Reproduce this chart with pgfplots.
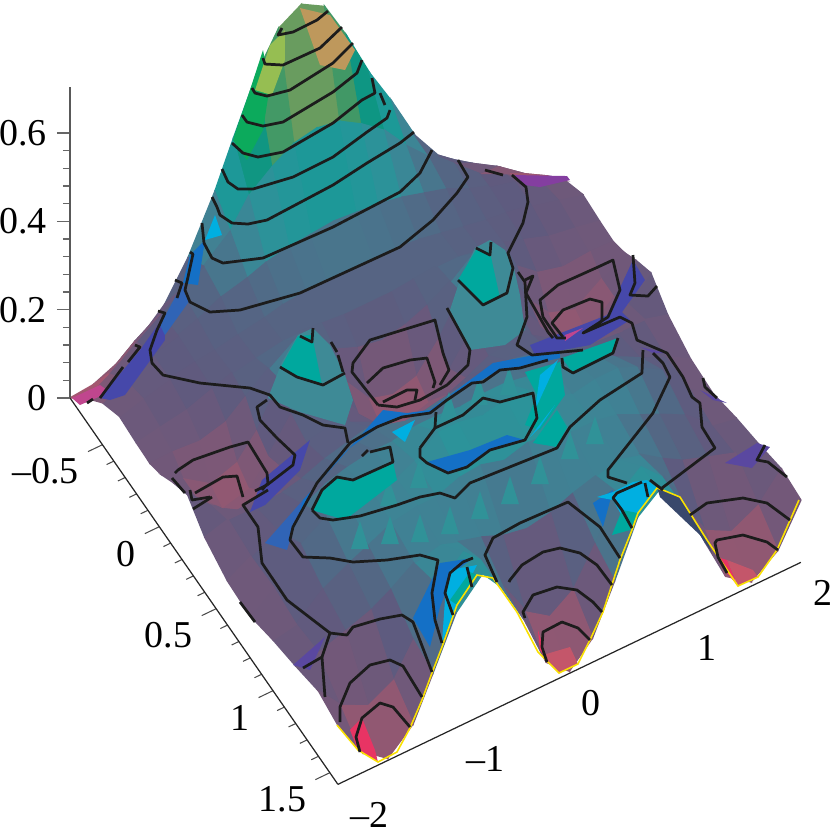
\documentclass[border=0pt]{standalone}
\usepackage{pgfplots}
\pgfplotsset{compat=1.18}
\usepackage{fontspec}
\setmainfont{Liberation Serif}
\definecolor{cb}{RGB}{28,28,28}
\definecolor{yel}{RGB}{250,225,0}
\definecolor{viol}{RGB}{70,72,170}
\definecolor{violb}{RGB}{90,72,160}
\definecolor{bluea}{RGB}{20,112,198}
\definecolor{blueb}{RGB}{48,100,182}
\definecolor{cyana}{RGB}{0,175,225}
\definecolor{teala}{RGB}{0,168,158}
\definecolor{tealb}{RGB}{62,138,150}
\definecolor{tealc}{RGB}{48,146,152}
\definecolor{fold}{RGB}{56,72,108}
\definecolor{purp}{RGB}{132,62,160}
\definecolor{crim}{RGB}{232,52,100}
\definecolor{rosea}{RGB}{196,86,106}
\definecolor{magn}{RGB}{192,70,142}
\definecolor{grna}{RGB}{12,170,92}
\definecolor{grnb}{RGB}{150,190,82}
\definecolor{tana}{RGB}{190,152,92}
\pgfplotsset{colormap={psi}{
rgb255=(200,84,108) rgb255=(146,88,114) rgb255=(118,88,120) rgb255=(96,90,126)
rgb255=(84,102,132) rgb255=(64,130,148) rgb255=(42,148,154) rgb255=(20,155,150)
rgb255=(10,150,135) rgb255=(40,150,110) rgb255=(90,155,95) rgb255=(140,160,95)
rgb255=(162,155,90) rgb255=(190,150,86)},
cont/.style={cb,solid,mark=none,line width=0.78pt,line join=round}}
\begin{document}
\begin{tikzpicture}
\path[use as bounding box] (0,0) rectangle (8.3cm,8.3cm);
% surface
\begin{axis}[anchor=origin,at={(3.908cm,4.143cm)},
 x={(1.1575cm,0.555cm)},y={(1.137cm,-1.64cm)},z={(0cm,4.417cm)},
 xmin=-2,xmax=2,ymin=-0.785,ymax=1.571,zmin=0,zmax=0.705,
 hide axis,clip=false,colormap name=psi,point meta min=0,point meta max=0.65]
\addplot3[surf,shader=flat,z buffer=sort,mesh/cols=21] coordinates {
(-2,-0.785,0) (-1.8,-0.785,0.005) (-1.57,-0.785,0.03) (-1.35,-0.785,0.07) (-1.18,-0.785,0.11) (-0.98,-0.785,0.19) (-0.75,-0.785,0.31) (-0.59,-0.785,0.41) (-0.39,-0.785,0.53) (-0.2,-0.785,0.61) (0,-0.785,0.64) (0.2,-0.785,0.61) (0.39,-0.785,0.52) (0.59,-0.785,0.41) (0.785,-0.785,0.32) (0.98,-0.785,0.22) (1.18,-0.785,0.15) (1.35,-0.785,0.11) (1.57,-0.785,0.06) (1.8,-0.785,0.03) (2,-0.785,0)

(-2,-0.65,0.05) (-1.8,-0.65,0.08) (-1.57,-0.65,0.125) (-1.35,-0.65,0.16) (-1.18,-0.65,0.19) (-0.98,-0.65,0.22) (-0.75,-0.65,0.27) (-0.59,-0.65,0.33) (-0.39,-0.65,0.37) (-0.2,-0.65,0.4) (0,-0.65,0.41) (0.2,-0.65,0.4) (0.39,-0.65,0.37) (0.59,-0.65,0.33) (0.785,-0.65,0.27) (0.98,-0.65,0.22) (1.18,-0.65,0.19) (1.35,-0.65,0.16) (1.57,-0.65,0.125) (1.8,-0.65,0.08) (2,-0.65,0.05)

(-2,-0.5,0.095) (-1.8,-0.5,0.12) (-1.57,-0.5,0.15) (-1.35,-0.5,0.165) (-1.18,-0.5,0.18) (-0.98,-0.5,0.205) (-0.75,-0.5,0.22) (-0.59,-0.5,0.235) (-0.39,-0.5,0.245) (-0.2,-0.5,0.25) (0,-0.5,0.255) (0.2,-0.5,0.25) (0.39,-0.5,0.245) (0.59,-0.5,0.235) (0.785,-0.5,0.22) (0.98,-0.5,0.205) (1.18,-0.5,0.18) (1.35,-0.5,0.165) (1.57,-0.5,0.15) (1.8,-0.5,0.12) (2,-0.5,0.095)

(-2,-0.35,0.12) (-1.8,-0.35,0.135) (-1.57,-0.35,0.15) (-1.35,-0.35,0.16) (-1.18,-0.35,0.165) (-0.98,-0.35,0.175) (-0.75,-0.35,0.185) (-0.59,-0.35,0.195) (-0.39,-0.35,0.2) (-0.2,-0.35,0.2) (0,-0.35,0.2) (0.2,-0.35,0.2) (0.39,-0.35,0.2) (0.59,-0.35,0.195) (0.785,-0.35,0.185) (0.98,-0.35,0.175) (1.18,-0.35,0.165) (1.35,-0.35,0.16) (1.57,-0.35,0.15) (1.8,-0.35,0.135) (2,-0.35,0.12)

(-2,-0.2,0.115) (-1.8,-0.2,0.125) (-1.57,-0.2,0.135) (-1.35,-0.2,0.155) (-1.18,-0.2,0.17) (-0.98,-0.2,0.18) (-0.75,-0.2,0.19) (-0.59,-0.2,0.19) (-0.39,-0.2,0.185) (-0.2,-0.2,0.18) (0,-0.2,0.18) (0.2,-0.2,0.18) (0.39,-0.2,0.185) (0.59,-0.2,0.19) (0.785,-0.2,0.19) (0.98,-0.2,0.18) (1.18,-0.2,0.17) (1.35,-0.2,0.155) (1.57,-0.2,0.135) (1.8,-0.2,0.125) (2,-0.2,0.115)

(-2,-0.08,0.113) (-1.8,-0.08,0.115) (-1.57,-0.08,0.11) (-1.35,-0.08,0.125) (-1.18,-0.08,0.16) (-0.98,-0.08,0.2) (-0.75,-0.08,0.24) (-0.59,-0.08,0.2) (-0.39,-0.08,0.17) (-0.2,-0.08,0.15) (0,-0.08,0.14) (0.2,-0.08,0.15) (0.39,-0.08,0.17) (0.59,-0.08,0.2) (0.785,-0.08,0.24) (0.98,-0.08,0.2) (1.18,-0.08,0.16) (1.35,-0.08,0.125) (1.57,-0.08,0.11) (1.8,-0.08,0.115) (2,-0.08,0.113)

(-2,0.02,0.125) (-1.8,0.02,0.09) (-1.57,0.02,0.05) (-1.35,0.02,0.07) (-1.18,0.02,0.12) (-0.98,0.02,0.21) (-0.75,0.02,0.3) (-0.59,0.02,0.21) (-0.39,0.02,0.13) (-0.2,0.02,0.07) (0,0.02,0.055) (0.2,0.02,0.07) (0.39,0.02,0.13) (0.59,0.02,0.21) (0.785,0.02,0.3) (0.98,0.02,0.21) (1.18,0.02,0.12) (1.35,0.02,0.07) (1.57,0.02,0.05) (1.8,0.02,0.09) (2,0.02,0.125)

(-2,0.12,0.145) (-1.8,0.12,0.09) (-1.57,0.12,0.035) (-1.35,0.12,0.05) (-1.18,0.12,0.1) (-0.98,0.12,0.17) (-0.75,0.12,0.21) (-0.59,0.12,0.17) (-0.39,0.12,0.1) (-0.2,0.12,0.05) (0,0.12,0.035) (0.2,0.12,0.05) (0.39,0.12,0.1) (0.59,0.12,0.17) (0.785,0.12,0.21) (0.98,0.12,0.17) (1.18,0.12,0.1) (1.35,0.12,0.05) (1.57,0.12,0.035) (1.8,0.12,0.09) (2,0.12,0.145)

(-2,0.25,0.165) (-1.8,0.25,0.12) (-1.57,0.25,0.08) (-1.35,0.25,0.09) (-1.18,0.25,0.12) (-0.98,0.25,0.155) (-0.75,0.25,0.165) (-0.59,0.25,0.155) (-0.39,0.25,0.13) (-0.2,0.25,0.11) (0,0.25,0.1) (0.2,0.25,0.11) (0.39,0.25,0.13) (0.59,0.25,0.155) (0.785,0.25,0.165) (0.98,0.25,0.155) (1.18,0.25,0.12) (1.35,0.25,0.09) (1.57,0.25,0.08) (1.8,0.25,0.12) (2,0.25,0.165)

(-2,0.4,0.125) (-1.8,0.4,0.14) (-1.57,0.4,0.14) (-1.35,0.4,0.145) (-1.18,0.4,0.155) (-0.98,0.4,0.175) (-0.75,0.4,0.19) (-0.59,0.4,0.2) (-0.39,0.4,0.2) (-0.2,0.4,0.19) (0,0.4,0.185) (0.2,0.4,0.19) (0.39,0.4,0.2) (0.59,0.4,0.2) (0.785,0.4,0.19) (0.98,0.4,0.175) (1.18,0.4,0.155) (1.35,0.4,0.145) (1.57,0.4,0.14) (1.8,0.4,0.14) (2,0.4,0.125)

(-2,0.6,0.1) (-1.8,0.6,0.13) (-1.57,0.6,0.16) (-1.35,0.6,0.19) (-1.18,0.6,0.215) (-0.98,0.6,0.23) (-0.75,0.6,0.24) (-0.59,0.6,0.24) (-0.39,0.6,0.25) (-0.2,0.6,0.25) (0,0.6,0.245) (0.2,0.6,0.25) (0.39,0.6,0.25) (0.59,0.6,0.24) (0.785,0.6,0.24) (0.98,0.6,0.23) (1.18,0.6,0.215) (1.35,0.6,0.19) (1.57,0.6,0.16) (1.8,0.6,0.13) (2,0.6,0.1)

(-2,0.8,0.095) (-1.8,0.8,0.135) (-1.57,0.8,0.205) (-1.35,0.8,0.24) (-1.18,0.8,0.26) (-0.98,0.8,0.26) (-0.75,0.8,0.25) (-0.59,0.8,0.27) (-0.39,0.8,0.31) (-0.2,0.8,0.31) (0,0.8,0.3) (0.2,0.8,0.31) (0.39,0.8,0.31) (0.59,0.8,0.27) (0.785,0.8,0.25) (0.98,0.8,0.26) (1.18,0.8,0.26) (1.35,0.8,0.24) (1.57,0.8,0.205) (1.8,0.8,0.135) (2,0.8,0.095)

(-2,1,0.115) (-1.8,1,0.125) (-1.57,1,0.175) (-1.35,1,0.205) (-1.18,1,0.225) (-0.98,1,0.25) (-0.75,1,0.26) (-0.59,1,0.26) (-0.39,1,0.28) (-0.2,1,0.285) (0,1,0.27) (0.2,1,0.285) (0.39,1,0.28) (0.59,1,0.26) (0.785,1,0.26) (0.98,1,0.25) (1.18,1,0.225) (1.35,1,0.205) (1.57,1,0.175) (1.8,1,0.125) (2,1,0.115)

(-2,1.2,0.13) (-1.8,1.2,0.135) (-1.57,1.2,0.155) (-1.35,1.2,0.175) (-1.18,1.2,0.2) (-0.98,1.2,0.235) (-0.75,1.2,0.25) (-0.59,1.2,0.235) (-0.39,1.2,0.22) (-0.2,1.2,0.2) (0,1.2,0.19) (0.2,1.2,0.2) (0.39,1.2,0.22) (0.59,1.2,0.235) (0.785,1.2,0.25) (0.98,1.2,0.235) (1.18,1.2,0.2) (1.35,1.2,0.175) (1.57,1.2,0.155) (1.8,1.2,0.135) (2,1.2,0.13)

(-2,1.4,0.148) (-1.8,1.4,0.09) (-1.57,1.4,0.06) (-1.35,1.4,0.09) (-1.18,1.4,0.16) (-0.98,1.4,0.26) (-0.75,1.4,0.31) (-0.59,1.4,0.27) (-0.39,1.4,0.18) (-0.2,1.4,0.1) (0,1.4,0.065) (0.2,1.4,0.1) (0.39,1.4,0.18) (0.59,1.4,0.27) (0.785,1.4,0.31) (0.98,1.4,0.26) (1.18,1.4,0.16) (1.35,1.4,0.09) (1.57,1.4,0.06) (1.8,1.4,0.09) (2,1.4,0.148)

(-2,1.571,0.134) (-1.8,1.571,0.05) (-1.57,1.571,0.005) (-1.35,1.571,0.055) (-1.18,1.571,0.148) (-0.98,1.571,0.26) (-0.75,1.571,0.32) (-0.59,1.571,0.27) (-0.39,1.571,0.17) (-0.2,1.571,0.05) (0,1.571,0.005) (0.2,1.571,0.055) (0.39,1.571,0.16) (0.59,1.571,0.28) (0.785,1.571,0.32) (0.98,1.571,0.27) (1.18,1.571,0.145) (1.35,1.571,0.05) (1.57,1.571,0.01) (1.8,1.571,0.052) (2,1.571,0.141)
};
\end{axis}
% colour accents and contour lines, on the picture's own pixel grid
\begin{axis}[at={(0cm,0cm)},anchor=south west,scale only axis,width=8.3cm,height=8.3cm,
 xmin=0,xmax=830,ymin=0,ymax=830,y dir=reverse,hide axis]
% bumps
\addplot[fill=tealb,draw=none] coordinates {(268,398)(282,362)(298,335)(313,328)(330,345)(345,375)(353,400)(345,425)(300,412)} -- cycle;
\addplot[fill=teala,draw=none] coordinates {(281,367)(298,336)(312,335)(322,385)(297,377)} -- cycle;
\addplot[fill=tealb,draw=none] coordinates {(450,310)(460,280)(475,248)(490,240)(505,250)(514,268)(520,295)(525,330)(505,345)(470,350)} -- cycle;
\addplot[fill=teala,draw=none] coordinates {(458,280)(476,250)(490,252)(500,298)(483,305)} -- cycle;
% spikes of the plateau
\addplot[fill=tealc,draw=none] coordinates {(351,549)(369,549)(360,521)} -- cycle;
\addplot[fill=tealc,draw=none] coordinates {(381,544)(399,544)(390,516)} -- cycle;
\addplot[fill=tealc,draw=none] coordinates {(411,542)(429,542)(420,514)} -- cycle;
\addplot[fill=tealc,draw=none] coordinates {(441,534)(459,534)(450,506)} -- cycle;
\addplot[fill=tealc,draw=none] coordinates {(471,519)(489,519)(480,491)} -- cycle;
\addplot[fill=tealc,draw=none] coordinates {(501,504)(519,504)(510,476)} -- cycle;
\addplot[fill=tealc,draw=none] coordinates {(531,484)(549,484)(540,456)} -- cycle;
\addplot[fill=tealc,draw=none] coordinates {(561,459)(579,459)(570,431)} -- cycle;
\addplot[fill=tealc,draw=none] coordinates {(586,444)(604,444)(595,416)} -- cycle;
\addplot[fill=tealc,draw=none] coordinates {(380,506)(398,506)(389,478)} -- cycle;
\addplot[fill=tealc,draw=none] coordinates {(410,488)(428,488)(419,460)} -- cycle;
\addplot[fill=tealc,draw=none] coordinates {(470,405)(488,405)(479,377)} -- cycle;
\addplot[fill=tealc,draw=none] coordinates {(440,420)(458,420)(449,392)} -- cycle;
\addplot[fill=tealc,draw=none] coordinates {(500,395)(518,395)(509,367)} -- cycle;
% steep flanks
\addplot[fill=viol,draw=none] coordinates {(250,512)(262,480)(310,440)(300,470)(265,505)} -- cycle;
\addplot[fill=bluea,draw=none] coordinates {(293,530)(303,500)(330,470)(363,433)(383,410)(407,413)(430,410)(493,363)(560,350)(560,358)(497,372)(447,397)(430,413)(402,417)(377,428)(347,450)(317,483)} -- cycle;
\addplot[fill=blueb,draw=none] coordinates {(265,543)(303,500)(293,530)(287,550)} -- cycle;
\addplot[fill=teala,draw=none] coordinates {(312,510)(322,490)(337,477)(353,480)(393,462)(397,480)(345,520)} -- cycle;
\addplot[fill=teala,draw=none] coordinates {(562,358)(618,338)(613,353)(573,373)} -- cycle;
\addplot[fill=teala,draw=none] coordinates {(525,372)(560,362)(565,395)(540,430)(525,425)(537,395)} -- cycle;
\addplot[fill=teala,draw=none] coordinates {(533,443)(557,410)(567,427)(557,447)} -- cycle;
\addplot[fill=cyana,draw=none] coordinates {(540,375)(558,360)(535,410)} -- cycle;
\addplot[fill=cyana,draw=none] coordinates {(530,437)(555,405)(540,427)} -- cycle;
\addplot[fill=cyana,draw=none] coordinates {(392,432)(415,420)(405,442)} -- cycle;
\addplot[fill=bluea,draw=none] coordinates {(427,462)(470,450)(507,435)(525,440)(490,450)(467,467)(448,473)} -- cycle;
\addplot[fill=viol,draw=none] coordinates {(530,345)(620,310)(630,320)(590,345)(535,355)} -- cycle;
\addplot[fill=viol,draw=none] coordinates {(633,260)(645,280)(620,315)(605,320)} -- cycle;
\addplot[fill=magn,draw=none] coordinates {(565,335)(583,328)(565,341)} -- cycle;
\addplot[fill=purp,draw=none] coordinates {(515,175)(567,176)(570,180)(540,187)(525,185)} -- cycle;
\addplot[fill=magn,draw=none] coordinates {(72,398)(100,385)(110,392)(80,405)} -- cycle;
\addplot[fill=viol,draw=none] coordinates {(100,398)(140,350)(165,315)(165,340)(125,395)(110,400)} -- cycle;
\addplot[fill=blueb,draw=none] coordinates {(160,325)(183,283)(190,300)(165,335)} -- cycle;
\addplot[fill=bluea,draw=none] coordinates {(183,283)(190,255)(205,240)(198,285)} -- cycle;
\addplot[fill=cyana,draw=none] coordinates {(205,240)(215,215)(222,235)} -- cycle;
\addplot[fill=grna,draw=none] coordinates {(233,140)(250,90)(263,50)(270,85)(263,130)(247,160)} -- cycle;
\addplot[fill=grnb,draw=none] coordinates {(255,90)(270,45)(285,30)(285,60)(272,95)} -- cycle;
\addplot[fill=tana,draw=none] coordinates {(300,8)(330,15)(355,50)(345,70)(320,65)} -- cycle;
\addplot[fill=violb,draw=none] coordinates {(293,665)(325,637)(310,670)} -- cycle;
\addplot[fill=violb,draw=none] coordinates {(752,468)(770,447)(757,443)(725,463)} -- cycle;
\addplot[fill=violb,draw=none] coordinates {(700,390)(727,403)(713,400)} -- cycle;
\addplot[fill=violb,draw=none] coordinates {(640,347)(667,353)(653,353)} -- cycle;
\addplot[fill=fold,draw=none] coordinates {(657,487)(680,497)(707,540)(712,553)(700,535)(660,497)} -- cycle;
\addplot[fill=crim,draw=none] coordinates {(350,730)(362,718)(375,750)(378,762)(358,750)} -- cycle;
\addplot[fill=crim,draw=none] coordinates {(538,630)(547,660)(540,650)} -- cycle;
\addplot[fill=rosea,draw=none] coordinates {(543,655)(570,647)(578,664)(559,673)} -- cycle;
\addplot[fill=crim,draw=none] coordinates {(717,557)(727,573)(738,586)(727,560)} -- cycle;
\addplot[fill=rosea,draw=none] coordinates {(727,560)(753,570)(758,577)(738,586)} -- cycle;
\addplot[fill=bluea,draw=none] coordinates {(413,618)(440,563)(473,558)(453,573)(440,607)(430,647)} -- cycle;
\addplot[fill=cyana,draw=none] coordinates {(445,600)(450,570)(477,565)(457,605)(442,643)} -- cycle;
\addplot[fill=teala,draw=none] coordinates {(457,605)(477,575)(470,572)(450,600)} -- cycle;
\addplot[fill=bluea,draw=none] coordinates {(593,503)(613,490)(603,527)} -- cycle;
\addplot[fill=cyana,draw=none] coordinates {(597,497)(613,492)(633,482)(647,480)(657,488)(638,513)(630,530)(613,500)} -- cycle;
\addplot[fill=teala,draw=none] coordinates {(630,530)(638,513)(622,510)(612,535)} -- cycle;
% yellow front edge
\addplot[yel,line width=0.45pt] coordinates {(337,725)(358,750)(378,762)(397,752)(410,728)(422,700)(432,673)(442,647)(457,605)(477,575)(493,578)(517,612)(538,652)(559,673)(578,664)(590,640)(603,612)(620,560)(632,530)(638,513)(657,488)(663,490)(680,497)(707,540)(738,586)(758,577)(777,550)(799,500)};
% contours
\addplot[cont] coordinates {(282,28)(278,35)(293,32)(317,20)(328,11)};
\addplot[cont] coordinates {(263,58)(265,64)(283,65)(320,48)(342,27)};
\addplot[cont] coordinates {(252,88)(255,93)(267,96)(290,90)(333,63)(353,43)};
\addplot[cont] coordinates {(242,115)(247,122)(263,126)(283,122)(333,92)(357,73)(362,60)};
\addplot[cont] coordinates {(232,143)(243,153)(258,157)(283,152)(333,123)(362,100)(375,93)(372,78)};
\addplot[cont] coordinates {(380,93)(385,105)};
\addplot[cont] coordinates {(222,169)(228,182)(238,189)(253,189)(293,177)(333,157)(367,132)(387,118)(390,110)};
\addplot[cont] coordinates {(212,197)(217,207)(220,215)(232,223)(248,224)(267,220)(333,185)(367,163)(400,143)(414,132)};
\addplot[cont] coordinates {(202,223)(204,243)(212,258)(223,263)(263,258)(333,227)(400,192)(420,173)(432,150)};
\addplot[cont] coordinates {(190,252)(193,254)(188,277)(185,290)(190,302)(210,312)(240,310)(300,293)(400,247)(433,220)(457,193)(468,177)(458,160)};
\addplot[cont] coordinates {(175,280)(182,283)(177,298)};
\addplot[cont] coordinates {(158,311)(165,313)(157,330)(150,350)(152,363)(163,375)(200,383)(250,388)(270,395)(280,407)(303,415)(323,425)(345,428)(348,443)};
\addplot[cont] coordinates {(135,345)(140,347)(128,362)};
\addplot[cont] coordinates {(123,367)(100,398)};
\addplot[cont] coordinates {(87,403)(93,399)};
\addplot[cont] coordinates {(300,336)(312,342)(313,328)};
\addplot[cont] coordinates {(280,367)(297,377)(323,385)(345,373)};
\addplot[cont] coordinates {(343,372)(338,355)};
\addplot[cont] coordinates {(337,352)(331,342)};
\addplot[cont] coordinates {(267,400)(257,407)(260,420)(277,438)(295,455)(293,465)(267,485)};
\addplot[cont] coordinates {(255,491)(267,485)};
\addplot[cont] coordinates {(175,473)(178,470)(193,460)(230,447)(248,442)(267,473)(268,483)(262,490)};
\addplot[cont] coordinates {(195,493)(223,477)(237,476)(243,497)};
\addplot[cont] coordinates {(172,478)(185,493)};
\addplot[cont] coordinates {(190,490)(192,500)(210,497)};
\addplot[cont] coordinates {(193,509)(212,497)};
\addplot[cont] coordinates {(268,490)(243,505)(258,527)(262,563)(287,600)(330,633)};
\addplot[cont] coordinates {(330,633)(347,635)(353,627)(380,619)(402,615)(413,622)(432,672)};
\addplot[cont] coordinates {(330,633)(322,657)(303,668)};
\addplot[cont] coordinates {(322,657)(325,697)};
\addplot[cont] coordinates {(240,602)(255,622)};
\addplot[cont] coordinates {(340,722)(340,707)(350,683)(370,665)(390,660)(403,666)(422,697)};
\addplot[cont] coordinates {(360,752)(356,737)(362,718)(380,703)(393,707)(410,727)};
\addplot[cont] coordinates {(442,643)(435,620)(432,593)(438,560)(420,555)(387,560)(353,562)(330,558)(303,557)(290,540)(293,527)(317,483)(350,443)(377,427)(402,417)(430,413)(447,400)(472,383)(483,382)(500,370)(520,368)(548,360)};
\addplot[cont] coordinates {(458,280)(483,305)(507,293)(513,268)(508,253)(523,223)(528,202)(526,187)(512,175)};
\addplot[cont] coordinates {(476,248)(490,255)(491,242)};
\addplot[cont] coordinates {(485,170)(503,175)};
\addplot[cont] coordinates {(518,272)(525,282)(527,317)(517,345)(532,355)(583,350)};
\addplot[cont] coordinates {(525,280)(533,276)(526,293)(548,332)(553,338)};
\addplot[cont] coordinates {(378,405)(352,372)(353,363)(370,340)(435,320)(443,353)(449,370)(440,385)};
\addplot[cont] coordinates {(378,405)(397,407)(420,400)(447,385)(468,365)(470,350)(447,308)};
\addplot[cont] coordinates {(367,383)(383,368)(410,360)(427,358)(435,382)(433,388)};
\addplot[cont] coordinates {(383,402)(407,390)(417,390)(415,400)};
\addplot[cont] coordinates {(566,338)(557,338)(543,317)(540,300)(558,285)(598,267)(613,260)(620,290)(608,317)(583,333)(620,317)(632,323)(637,340)(667,353)(683,377)(692,397)(700,403)(702,427)(715,448)(662,488)};
\addplot[cont] coordinates {(563,337)(552,323)(563,310)(590,299)(602,302)(602,320)(597,327)};
\addplot[cont] coordinates {(633,255)(635,283)(630,295)(648,296)(657,286)};
\addplot[cont] coordinates {(653,353)(663,363)(670,377)(653,413)(608,470)(608,477)(627,483)};
\addplot[cont] coordinates {(312,510)(320,518)(333,520)(360,516)(397,505)(420,497)(440,493)(455,498)(470,483)(557,448)(570,427)(600,400)(642,373)(643,350)};
\addplot[cont] coordinates {(312,510)(322,490)(337,477)(353,480)(393,462)(390,447)(370,452)};
\addplot[cont] coordinates {(362,456)(368,450)};
\addplot[cont] coordinates {(420,448)(420,457)(427,463)(448,473)(467,467)(490,450)(525,440)(537,418)(533,393)(500,402)(483,398)(463,415)(435,428)(420,448)};
\addplot[cont] coordinates {(435,428)(436,412)};
\addplot[cont] coordinates {(562,358)(563,367)(573,373)(613,353)(618,338)};
\addplot[cont] coordinates {(642,482)(617,493)(613,498)(622,510)(632,528)};
\addplot[cont] coordinates {(645,483)(648,497)};
\addplot[cont] coordinates {(650,480)(663,490)};
\addplot[cont] coordinates {(497,582)(485,555)(493,538)(520,523)(568,502)(600,527)(620,558)};
\addplot[cont] coordinates {(509,582)(510,580)(522,565)(543,552)(560,548)(580,553)(597,565)(612,585)};
\addplot[cont] coordinates {(525,618)(523,612)(533,595)(557,587)(577,590)(593,602)(602,612)};
\addplot[cont] coordinates {(547,662)(542,647)(543,632)(562,622)(578,628)(590,640)};
\addplot[cont] coordinates {(690,515)(707,503)(743,498)(767,503)(790,520)};
\addplot[cont] coordinates {(727,573)(718,557)(715,543)(717,540)(743,535)(767,542)(778,550)};
\addplot[cont] coordinates {(703,378)(705,387)(717,398)};
\addplot[cont] coordinates {(765,445)(757,460)(768,462)(787,477)};
\addplot[cont] coordinates {(453,615)(445,593)(450,573)(463,562)(473,558)};
\addplot[cont] coordinates {(467,567)(472,587)};
\end{axis}
% x and y axes: skew axis in the base plane
\begin{axis}[anchor=origin,at={(3.908cm,4.143cm)},
 x={(1.1575cm,0.555cm)},y={(1.137cm,-1.64cm)},
 xmin=-2,xmax=2,ymin=-0.785,ymax=1.571,
 axis x line=bottom,axis y line=left,axis line style={-,draw=black!85,line width=0.35pt},
 tick align=outside,xtick={-2,-1,0,1,2},ytick={-0.5,0,0.5,1,1.5},
 xticklabels={--2,--1,0,1,2},yticklabels={--0.5,0,0.5,1,1.5},
 minor tick num=4,major tick length=0.16cm,minor tick length=0.08cm,
 tick style={black!70,line width=0.3pt},
 tick label style={font=\fontsize{10.8}{12}\selectfont},
 xticklabel style={anchor=west,xshift=-0.09cm,yshift=-0.17cm},yticklabel style={anchor=east,xshift=0.03cm,yshift=-0.2cm}]
\end{axis}
% z axis
\begin{axis}[anchor=south west,at={(0.7cm,4.32cm)},scale only axis,width=1cm,height=3.114cm,
 xmin=0,xmax=1,ymin=0,ymax=0.705,axis y line=left,axis x line=none,
 axis line style={-,draw=black!65,line width=0.45pt},tick align=outside,
 ytick={0,0.2,0.4,0.6},yticklabels={0,0.2,0.4,0.6},minor y tick num=4,
 major tick length=0.13cm,minor tick length=0.07cm,
 tick style={black!60,line width=0.3pt},
 tick label style={font=\fontsize{10.8}{12}\selectfont},yticklabel style={xshift=0.02cm}]
\end{axis}
\end{tikzpicture}
\end{document}
